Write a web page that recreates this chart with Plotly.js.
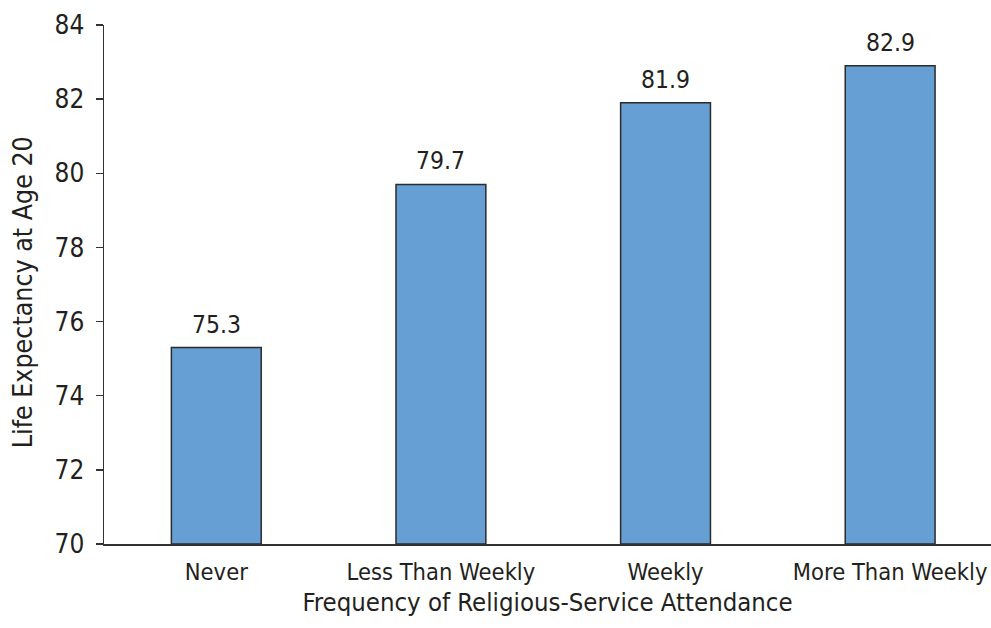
<!DOCTYPE html>
<html>
<head>
<meta charset="utf-8">
<script src="https://cdn.plot.ly/plotly-3.0.1.min.js"></script>
<style>
  html, body { margin: 0; padding: 0; background: #fff; }
  #chart { width: 991px; height: 628px; }
</style>
</head>
<body>
<div id="chart"></div>
<script>
// Life expectancy at age 20 by frequency of religious-service attendance
const categories = ['Never', 'Less Than Weekly', 'Weekly', 'More Than Weekly'];
const lifeExpectancy = [75.3, 79.7, 81.9, 82.9];
const yTicks = [70, 72, 74, 76, 78, 80, 82, 84];
const yBase = 70;

const FONT = '"DejaVu Sans Condensed", "Liberation Sans Narrow", "Arial Narrow", sans-serif';
const INK = '#231f20';

// bars start at the bottom of the axis (70), so heights are value - base
const trace = {
  type: 'bar',
  x: categories,
  y: lifeExpectancy.map(v => v - yBase),
  base: yBase,
  width: 0.4,
  marker: { color: '#659fd3', line: { color: '#2b2b2b', width: 1.5 } },
  hoverinfo: 'skip'
};

const valueLabels = categories.map((c, i) => ({
  x: c, y: lifeExpectancy[i], xref: 'x', yref: 'y',
  text: lifeExpectancy[i].toFixed(1),
  showarrow: false, yanchor: 'bottom', yshift: 7,
  font: { family: FONT, size: 24.5, color: INK }
}));

const yTitle = {
  xref: 'paper', yref: 'paper', x: -0.0925, y: 0.485,
  xanchor: 'center', yanchor: 'middle', textangle: -90,
  text: 'Life Expectancy at Age 20', showarrow: false,
  font: { family: FONT, size: 26.5, color: INK }
};

const layout = {
  width: 991, height: 628,
  margin: { l: 104, r: 0, t: 25, b: 84 },
  paper_bgcolor: '#fff', plot_bgcolor: '#fff',
  showlegend: false,
  font: { family: FONT, color: INK },
  xaxis: {
    type: 'category',
    range: [-0.5, 3.449],
    showline: true, linecolor: '#333', linewidth: 1.5,
    ticks: 'outside', ticklen: 6, tickcolor: 'rgba(0,0,0,0)',
    showgrid: false, zeroline: false,
    tickfont: { family: FONT, size: 23.5, color: INK },
    title: { text: 'Frequency of Religious-Service Attendance', font: { family: FONT, size: 25.5, color: INK }, standoff: 8 },
    fixedrange: true
  },
  yaxis: {
    range: [70, 84],
    tickvals: yTicks,
    ticktext: yTicks.map(String),
    showline: true, linecolor: '#333', linewidth: 1.5,
    ticks: 'outside', ticklen: 7, tickwidth: 1.5, tickcolor: '#333',
    showgrid: false, zeroline: false,
    tickfont: { family: FONT, size: 26, color: INK },
    ticklabelstandoff: 6,
    fixedrange: true
  },
  annotations: valueLabels.concat([yTitle])
};

Plotly.newPlot('chart', [trace], layout, { displayModeBar: false, staticPlot: true });
</script>
</body>
</html>
